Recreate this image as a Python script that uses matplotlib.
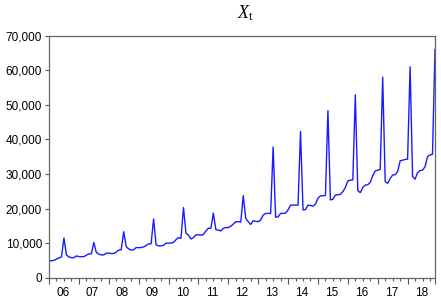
import numpy as np
import pandas as pd
import matplotlib
matplotlib.use("Agg")
import matplotlib.pyplot as plt
from matplotlib.ticker import FuncFormatter, FixedLocator

# Monthly observations 2006M01 - 2018M12
start = "2006-01"
values = [
    4900, 4900, 5000, 5400, 5700, 6000,
    11500,
    6600, 6000, 5800, 5800, 6300, 6100, 6100, 6100, 6500, 6900, 6900,
    10200,
    7300, 6800, 6600, 6600, 7100, 7100, 7000, 7000, 7400, 8000, 8100,
    13300,
    9000, 8300, 8000, 8100, 8700, 8700, 8700, 8900, 9300, 9800, 9800,
    17000,
    9500, 9200, 9200, 9400, 10000, 10000, 10000, 10200, 11000, 11600, 11400,
    20300,
    12900, 12300, 11200, 11600, 12400, 12400, 12300, 12500, 13500, 14300, 14300,
    18700,
    13900, 13800, 13500, 14300, 14500, 14500, 14900, 15500, 16200, 16200, 16100,
    23700,
    17200, 16200, 15400, 16500, 16300, 16200, 16700, 18100, 18600, 18600, 18600,
    37800,
    17500, 17600, 18600, 18600, 18700, 19600, 21000, 21000, 21000, 21000,
    42300,
    19600, 19700, 21000, 20900, 20700, 21300, 23000, 23700, 23700, 23800,
    48300,
    22500, 22700, 23900, 24000, 24100, 24900, 26100, 28000, 28200, 28300,
    52900,
    25200, 24600, 26100, 26800, 26900, 27600, 29500, 30900, 31100, 31300,
    58000,
    27800, 27300, 28700, 29700, 29800, 30700, 33800, 34000, 34200, 34300,
    61000,
    29200, 28500, 30400, 31000, 31100, 32100, 35000, 35500, 35700,
    66000,
]
years = list(range(2006, 2019))
year_labels = ["06", "07", "08", "09", "10", "11", "12", "13", "14", "15", "16", "17", "18"]
y_ticks = [0, 10000, 20000, 30000, 40000, 50000, 60000, 70000]

n = len(values)
dates = pd.period_range(start=start, periods=n, freq="M")
x = np.arange(n)  # month index

plt.rcParams["font.family"] = ["Liberation Sans", "DejaVu Sans"]
plt.rcParams["mathtext.fontset"] = "custom"
plt.rcParams["mathtext.rm"] = "Liberation Serif"
plt.rcParams["mathtext.it"] = "Liberation Serif:italic"

fig = plt.figure(figsize=(4.41, 3.0), dpi=100)
ax = fig.add_axes([49 / 441, 1 - 277.7 / 300, (435 - 49) / 441, (277.7 - 35.7) / 300])

ax.plot(x, values, color="#1a1aff", linewidth=1.0)

ax.set_xlim(0, n - 1)
ax.set_ylim(0, 70000)

ax.set_yticks(y_ticks)
ax.yaxis.set_major_formatter(FuncFormatter(lambda v, p: f"{int(v):,}"))
ax.tick_params(axis="y", direction="out", length=3, width=0.8, color="#555555",
               labelsize=8.5, pad=2, labelcolor="black")

# x axis: major ticks at year boundaries, minor ticks at quarters, labels mid-year
year_starts = [(y - 2006) * 12 for y in years] + [n - 1]
quarter_ticks = [q for q in range(0, n, 3) if q % 12 != 0]
ax.xaxis.set_major_locator(FixedLocator(year_starts))
ax.xaxis.set_minor_locator(FixedLocator(quarter_ticks))
ax.set_xticklabels([])
ax.tick_params(axis="x", which="major", direction="out", length=4.5, width=0.8, color="#555555")
ax.tick_params(axis="x", which="minor", direction="out", length=2.5, width=0.8, color="#555555")
for i, lab in enumerate(year_labels):
    ax.text((years[i] - 2006) * 12 + 5.5, 1 - 293 / 300, lab, transform=ax.get_xaxis_transform() if False else
            matplotlib.transforms.blended_transform_factory(ax.transData, fig.transFigure),
            ha="center", va="center", fontsize=8.5, color="black")

for s in ax.spines.values():
    s.set_color("#666666")
    s.set_linewidth(0.9)

fig.text(245 / 441, 1 - 13 / 300, r"$X_{\mathrm{t}}$", ha="center", va="center", fontsize=13)

fig.savefig("out.png", dpi=100)
